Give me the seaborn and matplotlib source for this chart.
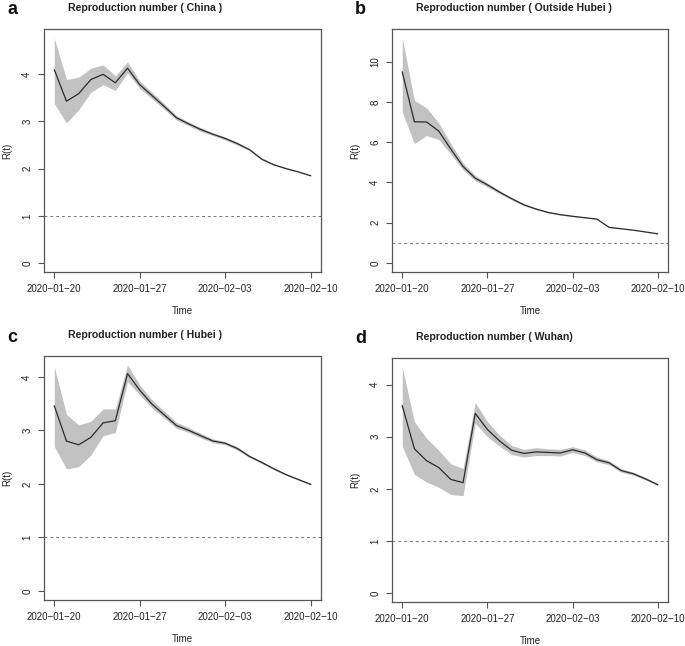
import numpy as np
import pandas as pd
import matplotlib
matplotlib.use("Agg")
import matplotlib.pyplot as plt
import matplotlib.dates as mdates
import seaborn as sns

dates = pd.date_range("2020-01-20", "2020-02-10", freq="D")

# China
china_mean = [4.10, 3.43, 3.59, 3.89, 4.00, 3.82, 4.13, 3.78, 3.55, 3.32, 3.08, 2.95,
              2.83, 2.73, 2.64, 2.53, 2.40, 2.20, 2.08, 2.00, 1.93, 1.85]
china_low = [3.38, 2.97, 3.25, 3.62, 3.78, 3.66, 4.03, 3.70, 3.48, 3.26, 3.03, 2.91,
             2.79, 2.70, 2.61, 2.50, 2.38, 2.18, 2.07, 1.99, 1.92, 1.84]
china_up = [4.77, 3.89, 3.94, 4.13, 4.20, 3.97, 4.26, 3.86, 3.62, 3.38, 3.13, 2.99,
            2.87, 2.76, 2.67, 2.56, 2.42, 2.22, 2.10, 2.01, 1.94, 1.86]

# Outside Hubei
out_mean = [9.49, 7.01, 7.00, 6.55, 5.65, 4.79, 4.21, 3.88, 3.52, 3.19, 2.89, 2.68,
            2.51, 2.40, 2.32, 2.25, 2.18, 1.77, 1.70, 1.63, 1.54, 1.45]
out_low = [7.50, 5.93, 6.33, 6.13, 5.40, 4.62, 4.08, 3.78, 3.44, 3.13, 2.84, 2.64,
           2.48, 2.37, 2.30, 2.23, 2.16, 1.75, 1.69, 1.62, 1.53, 1.44]
out_up = [11.17, 8.07, 7.70, 6.96, 5.92, 4.97, 4.34, 3.98, 3.60, 3.25, 2.94, 2.72,
          2.54, 2.43, 2.34, 2.27, 2.20, 1.79, 1.71, 1.64, 1.55, 1.46]

# Hubei
hubei_mean = [3.46, 2.80, 2.73, 2.87, 3.14, 3.18, 4.06, 3.75, 3.49, 3.29, 3.09, 3.00,
              2.90, 2.80, 2.76, 2.66, 2.51, 2.40, 2.28, 2.17, 2.08, 1.99]
hubei_low = [2.70, 2.28, 2.32, 2.54, 2.90, 2.96, 3.91, 3.66, 3.42, 3.23, 3.04, 2.96,
             2.86, 2.77, 2.73, 2.63, 2.49, 2.38, 2.26, 2.16, 2.07, 1.98]
hubei_up = [4.19, 3.30, 3.10, 3.17, 3.40, 3.40, 4.22, 3.85, 3.57, 3.36, 3.15, 3.05,
            2.94, 2.84, 2.79, 2.69, 2.54, 2.42, 2.30, 2.19, 2.10, 2.01]

# Wuhan
wuhan_mean = [3.60, 2.77, 2.54, 2.41, 2.18, 2.12, 3.45, 3.14, 2.92, 2.74, 2.68, 2.71,
              2.70, 2.69, 2.75, 2.69, 2.56, 2.50, 2.35, 2.29, 2.19, 2.08]
wuhan_low = [2.82, 2.28, 2.13, 2.03, 1.89, 1.87, 3.26, 3.00, 2.82, 2.66, 2.61, 2.64,
             2.64, 2.63, 2.70, 2.64, 2.52, 2.46, 2.32, 2.26, 2.17, 2.06]
wuhan_up = [4.34, 3.29, 2.97, 2.74, 2.48, 2.39, 3.66, 3.29, 3.03, 2.83, 2.76, 2.79,
            2.77, 2.76, 2.81, 2.75, 2.61, 2.54, 2.39, 2.32, 2.22, 2.10]

panels = [
    ("a", "Reproduction number ( China )", china_mean, china_low, china_up, [0, 1, 2, 3, 4]),
    ("b", "Reproduction number ( Outside Hubei )", out_mean, out_low, out_up, [0, 2, 4, 6, 8, 10]),
    ("c", "Reproduction number ( Hubei )", hubei_mean, hubei_low, hubei_up, [0, 1, 2, 3, 4]),
    ("d", "Reproduction number ( Wuhan)", wuhan_mean, wuhan_low, wuhan_up, [0, 1, 2, 3, 4]),
]

sns.set_style("ticks")
plt.rcParams["font.family"] = ["Liberation Sans", "DejaVu Sans"]

W, H = 685, 646
fig = plt.figure(figsize=(W / 100, H / 100), dpi=100)

# axes boxes in pixels: left, top, right, bottom
boxes = [(44, 29, 321, 272), (392, 29, 668, 272), (44, 356, 321, 600), (392, 358, 668, 602)]
edge = "#555555"

for (letter, title, mean, low, up, yticks), (l, t, r, b) in zip(panels, boxes):
    ax = fig.add_axes([l / W, 1 - b / H, (r - l) / W, (b - t) / H])
    df = pd.DataFrame({"Time": dates, "R": mean, "low": low, "up": up})
    ax.fill_between(df["Time"], df["low"], df["up"], color="#c2c2c2", lw=0)
    sns.lineplot(data=df, x="Time", y="R", ax=ax, color="#2b2b2b", lw=0.9)
    ax.axhline(1, color="#777777", lw=0.7, ls=(0, (3, 3)))

    span = (dates[-1] - dates[0]) * 0.04
    ax.set_xlim(dates[0] - span, dates[-1] + span)
    hi = max(up)
    ax.set_ylim(-0.04 * hi, hi * 1.04)

    ax.set_xticks(dates[::7])
    ax.xaxis.set_major_formatter(mdates.DateFormatter("%Y\u2212%m\u2212%d"))
    ax.set_yticks(yticks)
    ax.set_yticklabels([str(v) for v in yticks], rotation=90, va="center")
    ax.tick_params(axis="both", labelsize=7, length=4.5, width=0.8, color=edge,
                   labelcolor="#222222", pad=4)
    for s in ax.spines.values():
        s.set_color(edge)
        s.set_linewidth(0.9)

    ax.set_xlabel("Time", fontsize=7, color="#222222", labelpad=9)
    ax.set_ylabel("")
    fig.text((l - 37) / W, 1 - ((t + b) / 2) / H, "R(t)", fontsize=7, rotation=90,
             ha="center", va="center", color="#222222")

    fig.text((l + 24) / W, 1 - (t - 21) / H, title, fontsize=7.6, fontweight="bold",
             ha="left", va="center", color="#222222")
    fig.text((l - 37) / W, 1 - (t - 19) / H, letter, fontsize=13, fontweight="bold",
             ha="left", va="center", color="#111111")

fig.savefig("out.png", dpi=100)
